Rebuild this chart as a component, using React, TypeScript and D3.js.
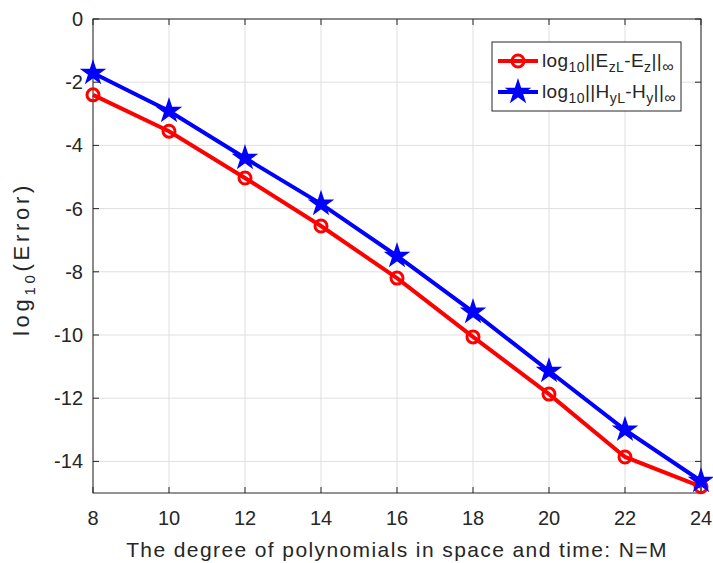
import React from 'react';
import * as d3 from 'd3';

const degrees = [8, 10, 12, 14, 16, 18, 20, 22, 24];
const errE = [-2.4, -3.55, -5.03, -6.55, -8.2, -10.06, -11.87, -13.86, -14.8];
const errH = [-1.71, -2.91, -4.4, -5.85, -7.5, -9.27, -11.14, -13.0, -14.62];
const xTicks = [8, 10, 12, 14, 16, 18, 20, 22, 24];
const yTicks = [0, -2, -4, -6, -8, -10, -12, -14];

const W = 713;
const H = 563;
const margin = { top: 19, right: 12, bottom: 70, left: 93 };
const ink = '#262626';
const font = 'Arial, "Liberation Sans", Helvetica, sans-serif';

function App() {
  const x = d3.scaleLinear().domain([8, 24]).range([margin.left, W - margin.right]);
  const y = d3.scaleLinear().domain([-15, 0]).range([H - margin.bottom, margin.top]);

  const line = d3.line<number>()
    .x((_, i) => x(degrees[i]))
    .y(d => y(d));

  const star = d3.symbol().type(d3.symbolStar).size(150)();

  const x0 = margin.left;
  const x1 = W - margin.right;
  const y0 = margin.top;
  const y1 = H - margin.bottom;

  // legend box
  const lg = { x: 492, y: 42, w: 189, h: 69 };

  return (
    <div style={{ position: 'fixed', left: 0, top: 0 }}>
      <svg width={W} height={H} style={{ display: 'block', background: '#fff' }} fontFamily={font}>
        {/* grid */}
        {xTicks.map(t => (
          <line key={'gx' + t} x1={x(t)} x2={x(t)} y1={y0} y2={y1} stroke="#dfdfdf" strokeWidth={1} />
        ))}
        {yTicks.map(t => (
          <line key={'gy' + t} x1={x0} x2={x1} y1={y(t)} y2={y(t)} stroke="#dfdfdf" strokeWidth={1} />
        ))}

        {/* box */}
        <rect x={x0} y={y0} width={x1 - x0} height={y1 - y0} fill="none" stroke={ink} strokeWidth={1} />

        {/* ticks */}
        {xTicks.map(t => (
          <g key={'tx' + t}>
            <line x1={x(t)} x2={x(t)} y1={y1} y2={y1 - 6} stroke={ink} />
            <line x1={x(t)} x2={x(t)} y1={y0} y2={y0 + 6} stroke={ink} />
            <text x={x(t)} y={y1 + 32} textAnchor="middle" fontSize={20} fill={ink}>{t}</text>
          </g>
        ))}
        {yTicks.map(t => (
          <g key={'ty' + t}>
            <line x1={x0} x2={x0 + 6} y1={y(t)} y2={y(t)} stroke={ink} />
            <line x1={x1} x2={x1 - 6} y1={y(t)} y2={y(t)} stroke={ink} />
            <text x={x0 - 10} y={y(t) + 7} textAnchor="end" fontSize={20} fill={ink}>{t}</text>
          </g>
        ))}

        {/* axis labels */}
        <text x={(x0 + x1) / 2} y={y1 + 64} textAnchor="middle" fontSize={21} letterSpacing={1.4} fill={ink}>
          The degree of polynomials in space and time: N=M
        </text>
        <text transform={`translate(29, ${(y0 + y1) / 2 + 3}) rotate(-90)`} textAnchor="middle" fontSize={22} letterSpacing={3.7} fill={ink}>
          log<tspan dy={6} fontSize={15}>10</tspan><tspan dy={-6}>(Error)</tspan>
        </text>

        {/* series E */}
        <path d={line(errE) ?? ''} fill="none" stroke="#ff0000" strokeWidth={4} />
        {errE.map((v, i) => (
          <circle key={'e' + i} cx={x(degrees[i])} cy={y(v)} r={6} fill="none" stroke="#ff0000" strokeWidth={3} />
        ))}

        {/* series H */}
        <path d={line(errH) ?? ''} fill="none" stroke="#0000ff" strokeWidth={4} />
        {errH.map((v, i) => (
          <path key={'h' + i} d={star ?? ''} transform={`translate(${x(degrees[i])},${y(v)})`} fill="#0000ff" stroke="#0000ff" strokeWidth={1.5} />
        ))}

        {/* legend */}
        <rect x={lg.x} y={lg.y} width={lg.w} height={lg.h} fill="#fff" stroke={ink} strokeWidth={1} />
        <line x1={lg.x + 6} x2={lg.x + 46} y1={lg.y + 19} y2={lg.y + 19} stroke="#ff0000" strokeWidth={4} />
        <circle cx={lg.x + 26} cy={lg.y + 19} r={6} fill="none" stroke="#ff0000" strokeWidth={3} />
        <text x={lg.x + 50} y={lg.y + 25} fontSize={19} letterSpacing={0.4} fill={ink}>
          log<tspan dy={5} fontSize={14}>10</tspan>
          <tspan dy={-5}>||E</tspan><tspan dy={5} fontSize={14}>zL</tspan>
          <tspan dy={-5}>-E</tspan><tspan dy={5} fontSize={14}>z</tspan>
          <tspan dy={-5}>||</tspan><tspan dy={5} fontSize={16}>∞</tspan>
        </text>
        <line x1={lg.x + 6} x2={lg.x + 46} y1={lg.y + 50} y2={lg.y + 50} stroke="#0000ff" strokeWidth={4} />
        <path d={star ?? ''} transform={`translate(${lg.x + 26},${lg.y + 50})`} fill="#0000ff" stroke="#0000ff" strokeWidth={1.5} />
        <text x={lg.x + 50} y={lg.y + 56} fontSize={19} letterSpacing={0.4} fill={ink}>
          log<tspan dy={5} fontSize={14}>10</tspan>
          <tspan dy={-5}>||H</tspan><tspan dy={5} fontSize={14}>yL</tspan>
          <tspan dy={-5}>-H</tspan><tspan dy={5} fontSize={14}>y</tspan>
          <tspan dy={-5}>||</tspan><tspan dy={5} fontSize={16}>∞</tspan>
        </text>
      </svg>
    </div>
  );
}

export default App;
